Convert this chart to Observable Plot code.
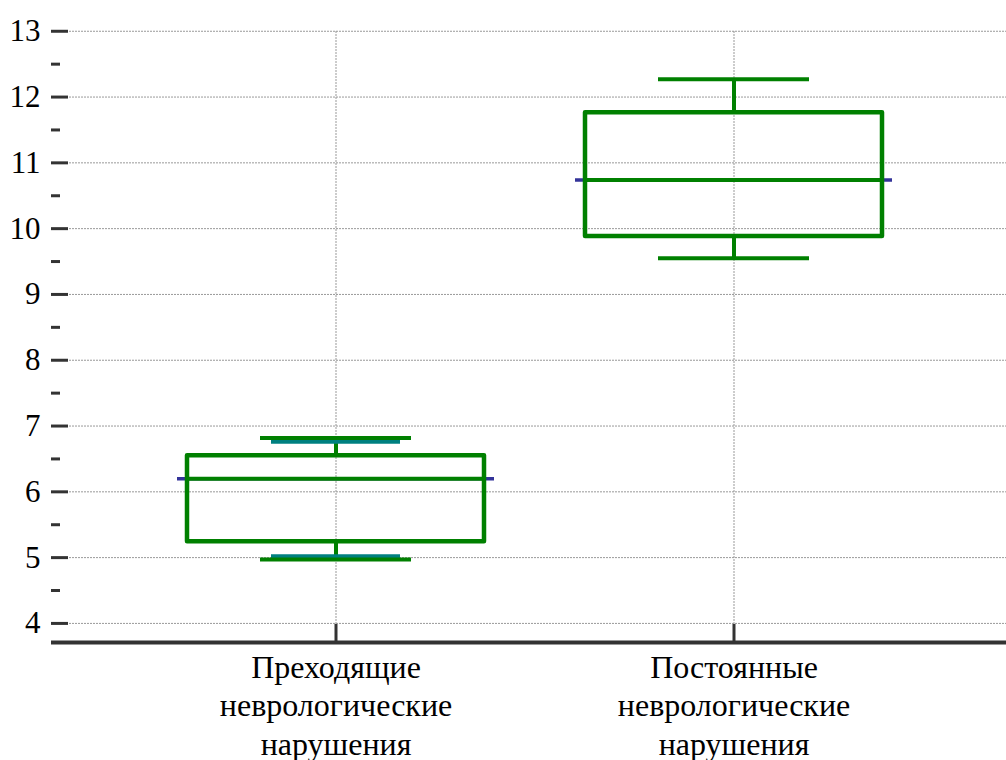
<!DOCTYPE html>
<html>
<head>
<meta charset="utf-8">
<script src="https://cdn.jsdelivr.net/npm/d3@7"></script>
<script src="https://cdn.jsdelivr.net/npm/@observablehq/plot@0.6"></script>
<style>
  html, body { margin: 0; padding: 0; background: #fff; }
  #chart { width: 1006px; height: 760px; }
  #chart svg text { font-family: "Liberation Serif", "Times New Roman", serif !important; }
</style>
</head>
<body>
<div id="chart"></div>
<script>
// ---- data ----
const categories = ["Преходящие\nневрологические\nнарушения", "Постоянные\nневрологические\nнарушения"];
const whiskerLow  = [4.97, 9.55];
const q1          = [5.24, 9.88];
const median      = [6.20, 10.74];
const q3          = [6.55, 11.76];
const whiskerHigh = [6.82, 12.27];
// additional teal markers (first group only)
const markerCats  = [categories[0], categories[0]];
const markerVals  = [5.02, 6.76];
const yTicks      = [4, 5, 6, 7, 8, 9, 10, 11, 12, 13];
const yMinorTicks = [4.5, 5.5, 6.5, 7.5, 8.5, 9.5, 10.5, 11.5, 12.5];
const yDomain     = [3.71, 13.27];

const boxes = categories.map((c, i) => ({
  cat: c, lo: whiskerLow[i], q1: q1[i], med: median[i], q3: q3[i], hi: whiskerHigh[i]
}));
const markers = markerCats.map((c, i) => ({cat: c, v: markerVals[i]}));

const W = 1006, H = 760, mL = 51, mR = 0, mT = 13, mB = 118;
const green = "#008000", navy = "#333399", teal = "#008080", axisCol = "#333333";
const gridStyle = {stroke: "#999", strokeWidth: 1, strokeDasharray: "2,1"};
const serif = "Liberation Serif";

const plot = Plot.plot({
  width: W, height: H,
  marginLeft: mL, marginRight: mR, marginTop: mT, marginBottom: mB,
  style: {fontFamily: serif, background: "#fff", color: "#000"},
  x: {type: "band", domain: categories, range: [186, 883], paddingInner: 0.2531, paddingOuter: 0, label: null},
  y: {domain: yDomain, label: null},
  marks: [
    // grid
    Plot.ruleY(yTicks, {...gridStyle}),
    Plot.ruleX(categories, {y1: yDomain[0], y2: 13, ...gridStyle}),
    // whiskers (vertical)
    Plot.ruleX(boxes, {x: "cat", y1: "q3", y2: "hi", stroke: green, strokeWidth: 4}),
    Plot.ruleX(boxes, {x: "cat", y1: "lo", y2: "q1", stroke: green, strokeWidth: 4}),
    // teal markers
    Plot.tickY(markers, {x: "cat", y: "v", stroke: teal, strokeWidth: 4, insetLeft: 84, insetRight: 84}),
    // whisker caps
    Plot.tickY(boxes, {x: "cat", y: "hi", stroke: green, strokeWidth: 4, insetLeft: 73, insetRight: 73}),
    Plot.tickY(boxes, {x: "cat", y: "lo", stroke: green, strokeWidth: 4, insetLeft: 73, insetRight: 73}),
    // navy median extension
    Plot.tickY(boxes, {x: "cat", y: "med", stroke: navy, strokeWidth: 3.5, insetLeft: -10, insetRight: -10}),
    // box
    Plot.rect(boxes, {x: "cat", y1: "q1", y2: "q3", fill: "none", stroke: green, strokeWidth: 4.5, strokeLinejoin: "round"}),
    Plot.tickY(boxes, {x: "cat", y: "med", stroke: green, strokeWidth: 4}),
    // y ticks (inward)
    Plot.tickY(yTicks, {y: d => d, stroke: axisCol, strokeWidth: 3, insetRight: W - mR - mL - 17}),
    Plot.tickY(yMinorTicks, {y: d => d, stroke: axisCol, strokeWidth: 3, insetRight: W - mR - mL - 9}),
    // x ticks (inward)
    Plot.tickX(categories, {x: d => d, stroke: axisCol, strokeWidth: 3, insetTop: H - mT - mB - 18}),
    // axis lines
    Plot.ruleX([0], {frameAnchor: "left", stroke: axisCol, strokeWidth: 4}),
    Plot.ruleY([yDomain[0]], {stroke: axisCol, strokeWidth: 4}),
    // axis labels
    Plot.axisY(yTicks, {tickSize: 0, tickPadding: 11, fontSize: 31, fontFamily: serif, tickFormat: d3.format("d"), label: null, fill: "#000"}),
    Plot.axisX({tickSize: 0, tickPadding: 8, fontSize: 32, fontFamily: serif, lineHeight: 1.2, label: null, fill: "#000", textAnchor: "middle"})
  ]
});
document.getElementById("chart").appendChild(plot);
</script>
</body>
</html>
